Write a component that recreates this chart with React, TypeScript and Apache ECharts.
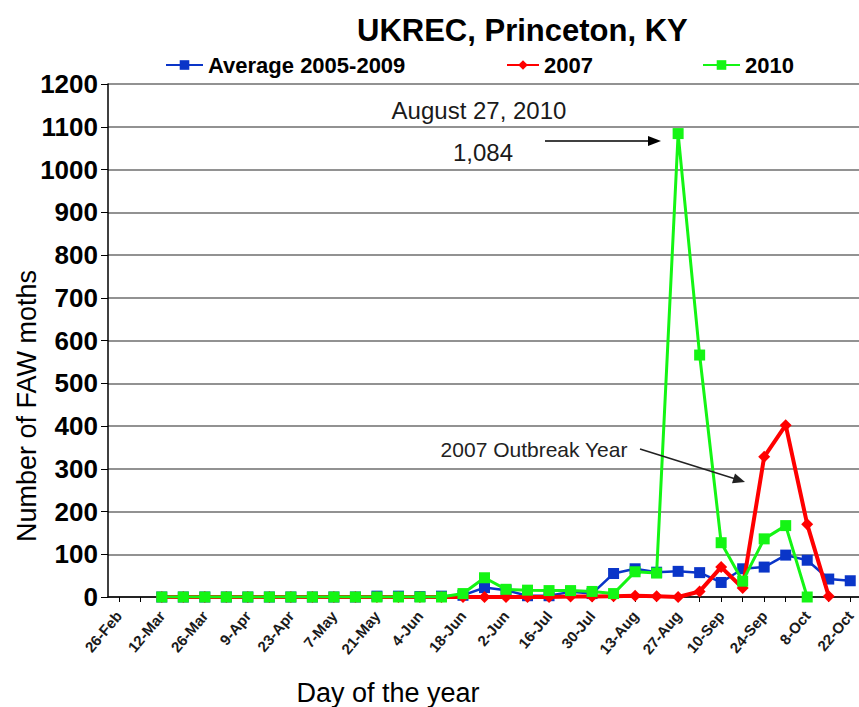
import React, { useEffect, useRef } from "react";
import * as echarts from "echarts";

const categories = [
  "26-Feb", "5-Mar", "12-Mar", "19-Mar", "26-Mar", "2-Apr", "9-Apr", "16-Apr", "23-Apr", "30-Apr",
  "7-May", "14-May", "21-May", "28-May", "4-Jun", "11-Jun", "18-Jun", "25-Jun", "2-Jun", "9-Jul",
  "16-Jul", "23-Jul", "30-Jul", "6-Aug", "13-Aug", "20-Aug", "27-Aug", "3-Sep", "10-Sep", "17-Sep",
  "24-Sep", "1-Oct", "8-Oct", "15-Oct", "22-Oct",
];

const average0509 = [
  null, null, 0, 0, 0, 0, 0, 0, 0, 0,
  0, 0, 2, 2, 1, 2, 4, 22, 16, 3,
  3, 12, 8, 55, 66, 58, 60, 57, 34, 66,
  70, 98, 86, 42, 38,
];

const y2007 = [
  null, null, 0, 0, 0, 0, 0, 0, 0, 0,
  0, 0, 0, 0, 0, 0, 0, 0, 0, 0,
  0, 1, 1, 2, 3, 2, 0, 13, 70, 21,
  328, 402, 170, 2, null,
];

const y2010 = [
  null, null, 0, 0, 0, 0, 0, 0, 0, 0,
  0, 0, 0, 0, 0, 0, 8, 45, 18, 16,
  15, 15, 13, 8, 59, 56, 1084, 566, 127, 37,
  136, 167, 0, null, null,
];

const seriesNames = ["Average 2005-2009", "2007", "2010"];
const titleText = "UKREC, Princeton, KY";
const yAxisTitle = "Number of FAW moths";
const xAxisTitle = "Day of the year";
const peakNote = ["August 27, 2010", "1,084"];
const outbreakNote = "2007 Outbreak Year";

const FONT = "'Liberation Sans', Arial, sans-serif";

export default function App() {
  const ref = useRef<HTMLDivElement>(null);

  useEffect(() => {
    if (!ref.current) return;
    const chart = echarts.init(ref.current, null, { renderer: "svg" });

    const legendCommon = {
      itemWidth: 37,
      itemHeight: 12,
      top: 49,
      textStyle: { fontSize: 22, fontWeight: "bold", color: "#000", fontFamily: FONT },
      selectedMode: false,
    };

    chart.setOption({
      animation: false,
      backgroundColor: "#fff",
      title: {
        text: titleText,
        left: 352,
        top: 10,
        textStyle: { fontSize: 31, fontWeight: "bold", color: "#000", fontFamily: FONT },
      },
      legend: [
        { ...legendCommon, data: [seriesNames[0]], left: 160 },
        { ...legendCommon, data: [seriesNames[1]], itemWidth: 32, left: 501 },
        { ...legendCommon, data: [seriesNames[2]], left: 697 },
      ],
      grid: {
        left: 108,
        right: -2,
        top: 84,
        bottom: 110,
        containLabel: false,
        outerBoundsMode: "none",
      },
      xAxis: {
        type: "category",
        data: categories,
        boundaryGap: true,
        axisLine: { lineStyle: { color: "#000", width: 1.5 } },
        axisTick: { show: true, alignWithLabel: true, interval: 0, length: 5, lineStyle: { color: "#000" } },
        axisLabel: {
          interval: 1,
          rotate: 50,
          fontSize: 15,
          fontWeight: "bold",
          color: "#1a1a1a",
          fontFamily: FONT,
          margin: 16,
        },
        splitLine: { show: false },
      },
      yAxis: {
        type: "value",
        min: 0,
        max: 1200,
        interval: 100,
        axisLine: { show: true, lineStyle: { color: "#000", width: 1.5 } },
        axisTick: { show: true, length: 7, lineStyle: { color: "#000" } },
        axisLabel: {
          fontSize: 26,
          fontWeight: "bold",
          color: "#000",
          fontFamily: FONT,
          margin: 10,
          formatter: (v: number) => String(v),
        },
        splitLine: { show: true, lineStyle: { color: "#6e6e6e", width: 1.6 } },
      },
      series: [
        {
          name: seriesNames[0],
          type: "line",
          data: average0509,
          symbol: "rect",
          symbolSize: 11,
          itemStyle: { color: "#0a35c8" },
          lineStyle: { color: "#0a35c8", width: 2.5 },
          z: 2,
        },
        {
          name: seriesNames[1],
          type: "line",
          data: y2007,
          symbol: "diamond",
          symbolSize: 12,
          itemStyle: { color: "#ff0000" },
          lineStyle: { color: "#ff0000", width: 4 },
          z: 3,
        },
        {
          name: seriesNames[2],
          type: "line",
          data: y2010,
          symbol: "rect",
          symbolSize: 11,
          itemStyle: { color: "#14f514" },
          lineStyle: { color: "#14f514", width: 3 },
          z: 4,
        },
      ],
      graphic: [
        {
          type: "text",
          x: 27,
          y: 406,
          rotation: Math.PI / 2,
          style: {
            text: yAxisTitle,
            fontSize: 27,
            fontFamily: FONT,
            fill: "#000",
            align: "center",
            verticalAlign: "middle",
          },
        },
        {
          type: "text",
          x: 388,
          y: 693,
          style: {
            text: xAxisTitle,
            fontSize: 27,
            fontFamily: FONT,
            fill: "#000",
            align: "center",
            verticalAlign: "middle",
          },
        },
        {
          type: "text",
          x: 479,
          y: 110,
          style: {
            text: peakNote[0],
            fontSize: 24,
            fontFamily: FONT,
            fill: "#1a1a1a",
            align: "center",
            verticalAlign: "middle",
          },
        },
        {
          type: "text",
          x: 483,
          y: 152,
          style: {
            text: peakNote[1],
            fontSize: 24,
            fontFamily: FONT,
            fill: "#1a1a1a",
            align: "center",
            verticalAlign: "middle",
          },
        },
        {
          type: "line",
          shape: { x1: 545, y1: 141, x2: 650, y2: 141 },
          style: { stroke: "#000", lineWidth: 1.5 },
          z: 10,
        },
        {
          type: "polygon",
          shape: { points: [[661, 141], [648, 136], [648, 146]] },
          style: { fill: "#000" },
          z: 10,
        },
        {
          type: "text",
          x: 534,
          y: 449,
          style: {
            text: outbreakNote,
            fontSize: 21,
            fontFamily: FONT,
            fill: "#222",
            align: "center",
            verticalAlign: "middle",
          },
        },
        {
          type: "line",
          shape: { x1: 640, y1: 449, x2: 734, y2: 478.5 },
          style: { stroke: "#222", lineWidth: 1.5 },
          z: 10,
        },
        {
          type: "polygon",
          shape: { points: [[745, 482], [735, 473.6], [732, 483.2]] },
          style: { fill: "#222" },
          z: 10,
        },
      ],
    });

    return () => {
      chart.dispose();
    };
  }, []);

  return (
    <div
      ref={ref}
      style={{ position: "absolute", left: 0, top: 0, width: 859, height: 707 }}
    />
  );
}
